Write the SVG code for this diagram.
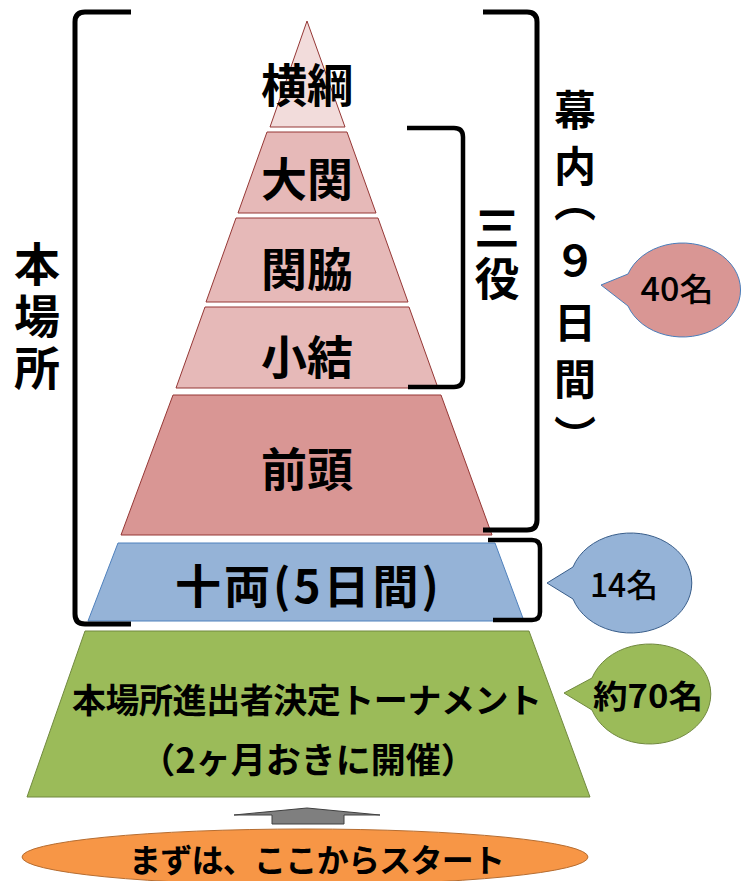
<svg xmlns="http://www.w3.org/2000/svg" width="742" height="881" viewBox="0 0 742 881">
  <style>
    text { font-family: "Noto Sans CJK JP", "Noto Sans", sans-serif; fill: #000; }
    .lbl { font-weight: bold; font-size: 46px; text-anchor: middle; dominant-baseline: central; }
    .vt { font-weight: bold; writing-mode: vertical-rl; }
    .red { stroke: #953735; stroke-width: 1; }
    .bracket { fill: none; stroke: #000; stroke-width: 5; stroke-linejoin: round; }
    .co { font-size: 32px; font-weight: 500; text-anchor: middle; dominant-baseline: central; }
  </style>
  <rect width="742" height="881" fill="#fff"/>

  <!-- pyramid layers -->
  <g id="yokozuna">
    <polygon class="red" points="307,21 270,127 345,127" fill="#F2DCDB"/>
    <text class="lbl" x="307" y="82">横綱</text>
  </g>
  <g id="ozeki">
    <polygon class="red" points="267,132 347,132 376,213 238,213" fill="#E6B9B8"/>
    <text class="lbl" x="307" y="176">大関</text>
  </g>
  <g id="sekiwake">
    <polygon class="red" points="236,218 378,218 408,302 206,302" fill="#E6B9B8"/>
    <text class="lbl" x="307" y="266">関脇</text>
  </g>
  <g id="komusubi">
    <polygon class="red" points="205,307 409,307 438,388 176,388" fill="#E6B9B8"/>
    <text class="lbl" x="307" y="354">小結</text>
  </g>
  <g id="maegashira">
    <polygon class="red" points="173,395 441,395 492,535 121,535" fill="#D99694"/>
    <text class="lbl" x="307" y="466">前頭</text>
  </g>
  <g id="juryo">
    <polygon points="118,543 495,543 524,621 88,621" fill="#95B3D7" stroke="#4F81BD" stroke-width="1"/>
    <text class="lbl" x="307" y="583" textLength="264" lengthAdjust="spacing">十両(5日間)</text>
  </g>
  <g id="tournament">
    <polygon points="85,631 529,631 590,797 27,797" fill="#9BBB59" stroke="#71893F" stroke-width="1"/>
    <text class="lbl" x="307" y="698" style="font-size:34px" textLength="470" lengthAdjust="spacing">本場所進出者決定トーナメント</text>
    <text class="lbl" x="308" y="757" style="font-size:35px">（2ヶ月おきに開催）</text>
  </g>
  <g id="start">
    <ellipse cx="305" cy="857" rx="283" ry="28" fill="#F79646" stroke="#B66D31" stroke-width="1"/>
    <text class="lbl" x="317" y="858" style="font-size:32px" textLength="376" lengthAdjust="spacing">まずは、ここからスタート</text>
  </g>

  <!-- side labels -->
  <g id="label-honbasho">
    <text class="vt" x="37" y="241" style="font-size:46px;letter-spacing:6px">本場所</text>
  </g>
  <g id="label-sanyaku">
    <text class="vt" x="497" y="205" style="font-size:45px;letter-spacing:6px">三役</text>
  </g>
  <g id="label-makuuchi">
    <text class="vt" x="575" y="89 145 180 239 301 358 415" style="font-size:42px">幕内（９日間）</text>
  </g>

  <!-- callouts -->
  <g id="callout-40">
    <path d="M601,285 L628,274 A58,47 0 1 1 628,306 Z" fill="#D99694" stroke="#4A7EBB" stroke-width="1"/>
    <text class="co" x="677" y="287" textLength="73" lengthAdjust="spacingAndGlyphs">40名</text>
  </g>
  <g id="callout-14">
    <path d="M547,583 L573,567 A61,50 0 1 1 573,599 Z" fill="#95B3D7" stroke="#385D8A" stroke-width="1"/>
    <text class="co" x="624" y="583" textLength="68" lengthAdjust="spacingAndGlyphs">14名</text>
  </g>
  <g id="callout-70">
    <path d="M564,693 L592,678 A61,50 0 1 1 592,710 Z" fill="#9BBB59" stroke="#71893F" stroke-width="1"/>
    <text class="co" x="648" y="694" style="font-weight:bold" textLength="110" lengthAdjust="spacingAndGlyphs">約70名</text>
  </g>

  <!-- connectors: brackets and arrow -->
  <g id="connectors">
    <path class="bracket" d="M131,12 L85,12 Q75,12 75,22 L75,614 Q75,624 85,624 L131,624"/>
    <path class="bracket" d="M483,12 L527,12 Q537,12 537,22 L537,520 Q537,530 527,530 L483,530"/>
    <path class="bracket" style="stroke-width:4.5" d="M407,128 L454,128 Q463,128 463,137 L463,378 Q463,387 454,387 L408,387"/>
    <path class="bracket" style="stroke-width:4.5" d="M488,540 L532,540 Q540,540 540,548 L540,612 Q540,620 532,620 L493,620"/>
    <path d="M307,808 L380,815 L344,815 L344,824 L272,824 L272,815 L234,815 Z" fill="#7F7F7F" stroke="#404040" stroke-width="1"/>
  </g>
</svg>
